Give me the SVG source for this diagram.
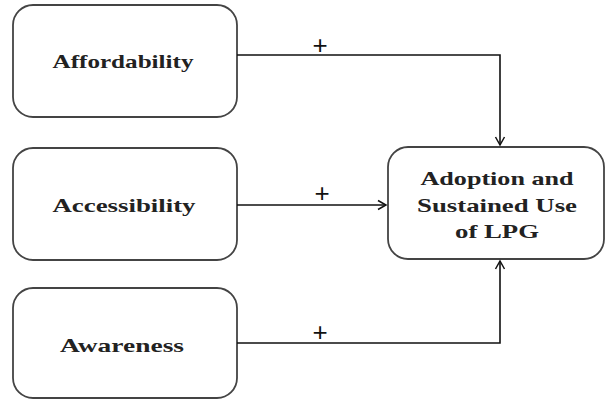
<svg xmlns="http://www.w3.org/2000/svg" width="606" height="400" viewBox="0 0 606 400">
<defs>
<marker id="arr" markerWidth="12" markerHeight="12" refX="10" refY="6" orient="auto" markerUnits="userSpaceOnUse">
<path d="M2,1.5 L10,6 L2,10.5" fill="none" stroke="#111" stroke-width="1.5"/>
</marker>
</defs>
<style>
.box{fill:#fff;stroke:#444;stroke-width:1.8}
.lbl{font-family:"Liberation Serif",serif;font-weight:bold;font-size:19px;fill:#222;text-anchor:middle}
.plus{font-family:"Liberation Sans",sans-serif;font-size:26px;fill:#111;text-anchor:middle}
.conn{fill:none;stroke:#111;stroke-width:1.6}
</style>
<rect width="606" height="400" fill="#fff"/>
<g id="affordability">
<rect class="box" x="13" y="5" width="224" height="112" rx="20"/>
<text class="lbl" x="123" y="68" textLength="141" lengthAdjust="spacingAndGlyphs">Affordability</text>
</g>
<g id="accessibility">
<rect class="box" x="13" y="148" width="224" height="112" rx="20"/>
<text class="lbl" x="124" y="212" textLength="143" lengthAdjust="spacingAndGlyphs">Accessibility</text>
</g>
<g id="awareness">
<rect class="box" x="13" y="288" width="224" height="110" rx="20"/>
<text class="lbl" x="122" y="352" textLength="124" lengthAdjust="spacingAndGlyphs">Awareness</text>
</g>
<g id="adoption">
<rect class="box" x="388" y="147" width="216" height="112" rx="20"/>
<text class="lbl" x="497" y="185" textLength="153" lengthAdjust="spacingAndGlyphs">Adoption and</text>
<text class="lbl" x="497" y="212" textLength="160" lengthAdjust="spacingAndGlyphs">Sustained Use</text>
<text class="lbl" x="497" y="238" textLength="84" lengthAdjust="spacingAndGlyphs">of LPG</text>
</g>
<g id="connectors">
<path class="conn" d="M237,55 H500 V145" marker-end="url(#arr)"/>
<path class="conn" d="M237,205 H386" marker-end="url(#arr)"/>
<path class="conn" d="M237,343 H500 V261" marker-end="url(#arr)"/>
<text class="plus" x="320" y="54">+</text>
<text class="plus" x="322" y="202">+</text>
<text class="plus" x="320" y="341">+</text>
</g>
</svg>
